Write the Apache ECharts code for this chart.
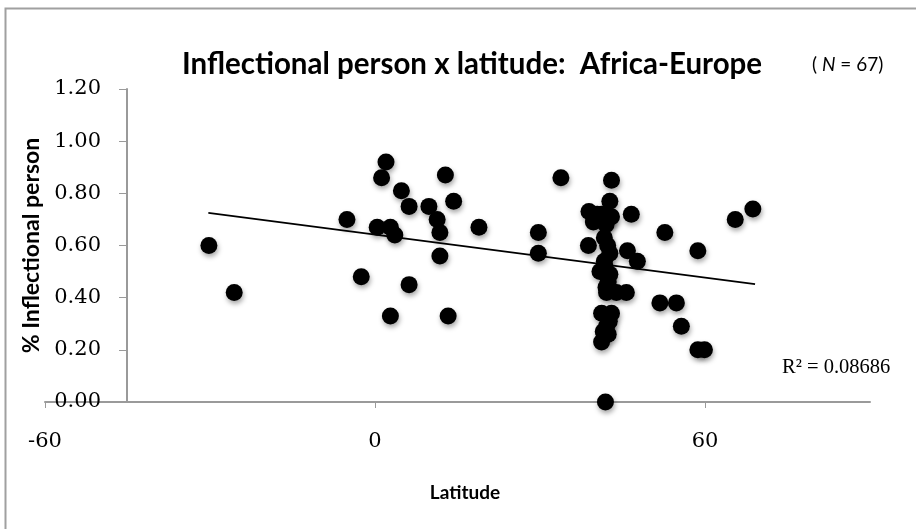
<!DOCTYPE html>
<html>
<head>
<meta charset="utf-8">
<script src="https://cdn.jsdelivr.net/npm/echarts@6/dist/echarts.min.js"></script>
<style>
  html, body { margin: 0; padding: 0; background: #fff; }
  #chart { width: 916px; height: 529px; }
</style>
</head>
<body>
<div id="chart"></div>
<script>
// latitude of each language
const latitude = [
  -30.2, -25.6,
  2.0, 1.2, 12.8, 4.8, 6.2, 9.8, 14.3, -5.1, 11.3, 18.9, 0.4, 2.8, 3.6, 11.8, 11.8, -2.5, 6.2, 2.8, 13.3,
  33.8, 43.0, 42.7, 38.9, 46.6, 39.7, 41.2, 43.0, 29.7, 52.7, 65.5, 68.7, 41.7, 38.8, 29.7, 42.7, 45.9,
  58.7, 47.7, 41.7, 40.9, 42.7, 42.4, 42.1, 43.9, 45.7, 51.8, 54.8, 55.7, 41.2, 43.0, 42.1, 42.4, 41.2,
  58.7, 59.9, 41.9,
  40.4, 42.2, 42.0, 41.6, 42.3, 41.8, 42.6, 42.0, 41.5
];
// share of inflectional person marking
const inflPerson = [
  0.60, 0.42,
  0.92, 0.86, 0.87, 0.81, 0.75, 0.75, 0.77, 0.70, 0.70, 0.67, 0.67, 0.67, 0.64, 0.65, 0.56, 0.48, 0.45, 0.33, 0.33,
  0.86, 0.85, 0.77, 0.73, 0.72, 0.69, 0.72, 0.71, 0.65, 0.65, 0.70, 0.74, 0.63, 0.60, 0.57, 0.57, 0.58,
  0.58, 0.54, 0.54, 0.50, 0.49, 0.46, 0.42, 0.42, 0.42, 0.38, 0.38, 0.29, 0.34, 0.34, 0.29, 0.26, 0.23,
  0.20, 0.20, 0.00,
  0.72, 0.70, 0.68, 0.72, 0.60, 0.52, 0.31, 0.44, 0.27
];
// linear trendline end points
const trendX = [-30.3, 69.1];
const trendY = [0.725, 0.452];
const xTicks = [-60, 0, 60];
const rSquared = '0.08686';
const nLangs = 67;

const points = latitude.map((x, i) => [x, inflPerson[i]]);

const chart = echarts.init(document.getElementById('chart'), null, {renderer: 'canvas'});

const serif = 'DejaVu Serif';
const sans = 'Lato';

const option = {
  animation: false,
  backgroundColor: '#fff',
  title: [
    {
      text: 'Inflectional person x latitude:  Africa-Europe',
      left: 177,
      top: 44,
      textStyle: {fontFamily: sans, fontWeight: 'bold', fontSize: 29.5, color: '#000'}
    },
    {
      text: '( {i|N} = ' + nLangs + ')',
      left: 807,
      top: 50,
      textStyle: {
        fontFamily: sans, fontWeight: 'normal', fontSize: 19, color: '#000',
        rich: {i: {fontFamily: sans, fontStyle: 'italic', fontSize: 19, color: '#000'}}
      }
    }
  ],
  grid: {left: 45, right: 46, top: 89, bottom: 127},
  xAxis: {
    type: 'value',
    min: -60,
    max: 90,
    interval: 60,
    axisLine: {onZero: false, lineStyle: {color: '#9a9a9a', width: 2}},
    axisTick: {show: true, length: 6, customValues: xTicks, lineStyle: {color: '#9a9a9a', width: 1}},
    axisLabel: {
      customValues: xTicks,
      margin: 29,
      fontFamily: serif, fontSize: 21, color: '#000'
    },
    splitLine: {show: false}
  },
  yAxis: {
    type: 'value',
    min: 0,
    max: 1.2,
    interval: 0.2,
    offset: -82,
    name: '% Inflectional person',
    nameLocation: 'middle',
    nameGap: 84,
    nameTextStyle: {fontFamily: sans, fontWeight: 'bold', fontSize: 23, color: '#000'},
    axisLine: {show: true, onZero: false, lineStyle: {color: '#9a9a9a', width: 2}},
    axisTick: {show: true, length: 8, lineStyle: {color: '#9a9a9a', width: 1}},
    axisLabel: {
      margin: 26,
      fontFamily: serif, fontSize: 21, color: '#000',
      formatter: v => v.toFixed(2)
    },
    splitLine: {show: false}
  },
  graphic: [
    {
      type: 'rect',
      shape: {x: 5.5, y: 8.5, width: 1000, height: 1000},
      style: {fill: null, stroke: '#a0a0a0', lineWidth: 2},
      silent: true
    },
    {
      type: 'text',
      x: 465,
      y: 493,
      style: {
        text: 'Latitude', font: 'bold 19px Lato', fill: '#000',
        align: 'center', verticalAlign: 'middle'
      }
    },
    {
      type: 'text',
      x: 782,
      y: 368,
      style: {
        text: 'R² = ' + rSquared, font: '20.5px "Liberation Serif"', fill: '#000',
        verticalAlign: 'middle'
      }
    }
  ],
  series: [
    {
      type: 'scatter',
      data: points,
      symbolSize: 17,
      itemStyle: {
        color: '#000',
        opacity: 1,
        shadowBlur: 5,
        shadowOffsetX: 1,
        shadowOffsetY: 3,
        shadowColor: 'rgba(0,0,0,0.35)'
      },
      z: 3
    },
    {
      type: 'line',
      data: [[trendX[0], trendY[0]], [trendX[1], trendY[1]]],
      symbol: 'none',
      lineStyle: {color: '#000', width: 1.8},
      z: 4
    }
  ]
};

chart.setOption(option);
</script>
</body>
</html>
